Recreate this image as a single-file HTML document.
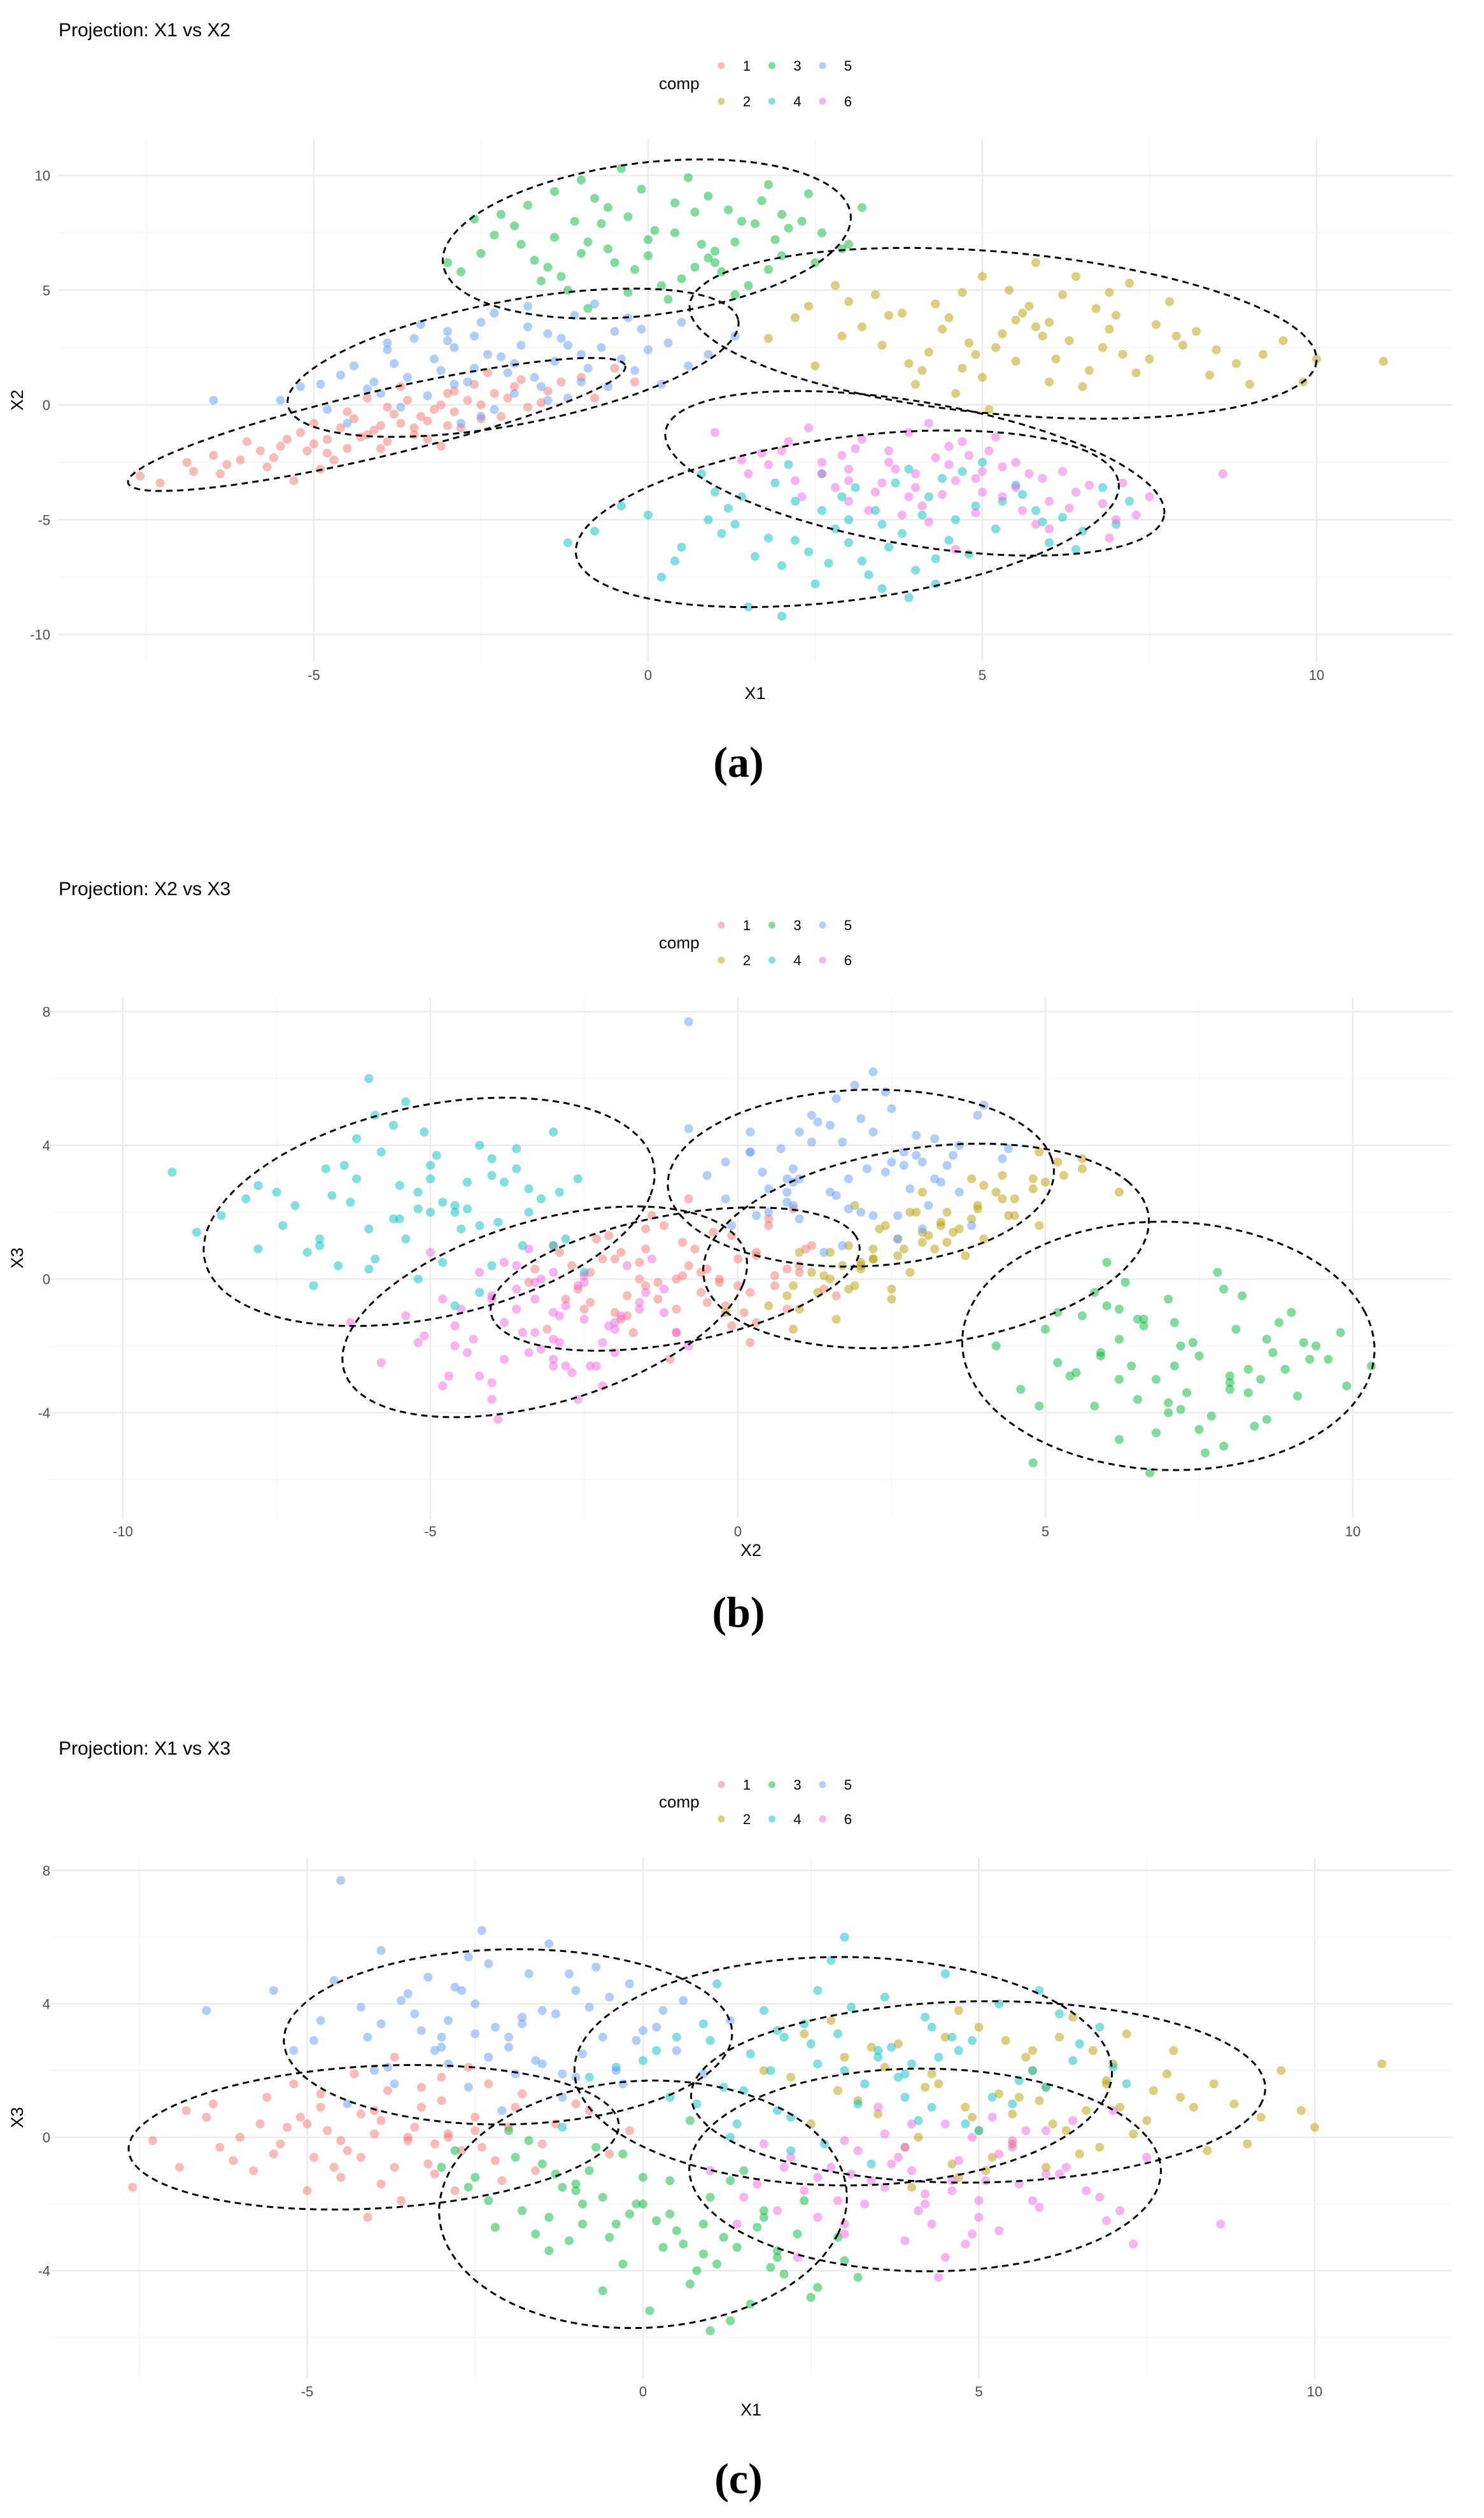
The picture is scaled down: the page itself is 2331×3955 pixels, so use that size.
<!DOCTYPE html>
<html><head><meta charset="utf-8"><style>
html,body{margin:0;padding:0;background:#fff;}
svg{display:block;font-family:"Liberation Sans",sans-serif;}
</style></head><body>
<svg id="fig" width="2331" height="3955" viewBox="0 0 2331 3955" xmlns="http://www.w3.org/2000/svg"></svg>
<script>
// ---- data: 3D points per component [X1, X2, X3] ----
const comp1 = [[-4.0,-0.9,0.1],[-5.5,-1.8,-0.5],[-2.5,0.0,0.6],[-3.2,-0.2,-0.8],[-4.8,-1.5,0.9],[-6.3,-2.6,-0.3],[-1.5,0.6,-0.2],[-3.8,-0.4,1.4],[-4.5,-1.9,-1.2],[-2.0,0.8,0.3],[-5.0,-0.8,0.4],[-3.5,-1.3,-0.1],[-6.8,-2.9,0.8],[-1.0,1.2,1.0],[-2.8,-1.0,-1.6],[-4.2,0.3,0.7],[-5.8,-2.0,-1.0],[-3.0,0.5,1.8],[-4.7,-2.4,0.2],[-2.2,-0.5,-0.7],[-3.6,0.2,-1.9],[-5.2,-1.2,1.6],[-7.3,-3.4,-0.1],[-0.5,1.6,-0.5],[-3.9,-1.6,0.5],[-4.4,-0.6,-0.4],[-2.6,0.9,2.1],[-6.0,-1.6,0.0],[-3.3,-0.7,0.9],[-4.9,-2.8,-0.6],[-1.8,-0.1,1.3],[-5.6,-2.3,1.2],[-3.1,-1.8,-1.1],[-2.4,1.4,-0.3],[-4.1,-1.1,-2.4],[-6.5,-2.2,0.6],[-0.8,0.3,0.8],[-3.7,0.8,-0.9],[-5.3,-3.3,0.3],[-2.9,-0.3,0.0],
[-3.4,-0.5,0.3],[-4.6,-1.0,-0.9],[-2.1,0.3,-1.3],[-5.1,-2.0,0.6],[-3.0,-0.9,1.1],[-6.1,-2.4,-0.7],[-1.3,1.0,0.4],[-4.3,-1.4,1.9],[-2.7,0.2,-0.4],[-5.4,-1.5,-0.2],[-3.9,-0.1,-1.4],[-4.8,-2.1,1.3],[-2.3,0.5,1.6],[-6.9,-2.5,-0.9],[-3.5,-1.0,0.0],[-1.6,0.1,-1.0],[-4.0,-1.9,0.8],[-5.7,-2.7,0.4],[-2.9,0.6,0.1],[-3.3,-1.5,1.5],[-4.5,-0.3,-0.1],[-7.6,-3.1,-1.5],[-1.9,1.1,0.9],[-5.0,-1.7,-1.6],[-3.7,-0.8,2.4],[-2.5,-0.6,0.2],[-6.4,-3.0,1.0],[-4.2,-1.3,-0.6],[-0.2,1.0,0.2],[-3.1,0.0,-0.2]];
const comp2 = [[5.3,3.1,1.3],[7.5,2.0,0.5],[3.0,4.5,2.4],[6.2,4.8,3.0],[4.1,1.5,0.0],[8.8,1.8,1.0],[5.0,5.6,3.3],[2.2,3.8,1.8],[6.8,2.5,-0.3],[4.6,0.5,-0.8],[9.5,2.8,2.0],[3.5,2.6,0.7],[5.8,6.2,2.6],[7.0,3.9,2.2],[4.4,3.3,1.6],[6.5,0.8,-0.5],[2.8,5.2,3.5],[8.2,3.2,0.9],[5.5,1.9,-0.2],[3.8,4.0,2.8],[6.0,3.6,1.5],[4.9,2.2,0.6],[7.8,4.5,1.9],[1.8,2.9,2.0],[5.7,4.3,2.4],[10.0,2.0,0.3],[4.0,0.9,-1.5],[6.6,1.5,0.8],[3.2,3.4,1.1],[7.2,5.3,3.1],[5.1,-0.2,-1.0],[8.5,2.4,1.6],[4.7,4.9,3.8],[6.3,2.8,0.2],[2.5,1.7,0.4],[11.0,1.9,2.2],[9.0,0.9,-0.2],[5.9,3.0,1.1],
[4.8,2.7,0.9],[6.9,3.3,1.7],[3.6,3.9,2.1],[5.6,4.0,1.2],[7.3,1.4,0.1],[4.2,2.3,1.5],[8.0,2.6,1.2],[5.4,5.0,2.9],[6.1,2.0,0.4],[3.9,1.8,-0.3],[9.2,2.2,0.6],[4.5,3.8,3.0],[6.7,4.2,2.6],[5.2,2.5,-0.6],[7.6,3.5,1.4],[2.9,3.0,1.4],[6.4,5.6,3.6],[5.0,1.2,0.2],[8.4,1.3,-0.4],[3.4,4.8,2.7],[6.0,1.0,-0.9],[4.3,4.4,1.9],[7.1,2.2,0.9],[5.8,3.4,2.0],[9.8,1.0,0.8],[2.4,4.3,3.1],[6.9,4.9,1.6],[4.7,1.6,-1.2],[7.9,3.0,2.6],[5.5,3.7,0.7]];
const comp3 = [[0.0,7.2,-2.0],[-1.5,6.0,-0.8],[1.2,8.5,-3.0],[-0.8,9.0,-1.0],[2.0,6.5,-3.6],[-2.0,7.8,0.2],[0.5,5.5,-2.8],[1.8,9.6,-2.4],[-1.2,5.0,-1.5],[0.8,7.0,-4.0],[-2.5,6.6,-1.2],[2.6,7.5,-4.5],[-0.3,8.2,-0.5],[1.0,6.2,-1.8],[-1.8,8.7,-2.2],[0.3,4.6,-3.3],[2.3,8.0,-2.9],[-0.6,6.8,-4.6],[1.5,5.2,-1.0],[-1.0,9.8,-1.6],[0.1,7.6,-5.2],[-2.8,5.8,-0.4],[1.9,7.2,-3.9],[-0.4,10.3,-2.6],[0.7,6.0,0.5],[-1.4,7.3,-3.4],[2.9,6.8,-3.0],[-2.2,8.3,-2.7],[0.9,9.1,-3.5],[-0.2,5.9,-2.3],[1.3,4.8,-5.5],[-1.7,6.3,-0.1],[3.2,8.6,-4.2],[-3.0,6.2,-0.9],[0.4,8.8,-1.3],[1.6,7.9,-5.0],[-0.9,4.2,-2.0],[2.4,9.2,-1.9],
[0.4,7.5,-2.3],[-1.0,6.6,-1.4],[1.4,8.0,-3.3],[-0.6,8.6,-1.8],[0.9,6.4,-2.6],[-1.9,7.0,-0.6],[1.1,5.8,-3.8],[-0.1,9.4,-2.0],[-1.3,5.6,-1.1],[2.1,7.7,-4.1],[-0.5,6.2,-3.0],[1.7,8.9,-2.7],[-2.3,7.4,-1.9],[0.2,5.2,-2.5],[1.3,7.1,-1.3],[-1.1,8.0,-3.1],[2.5,6.2,-4.8],[-0.7,7.9,-0.3],[0.6,9.9,-3.2],[-1.6,5.4,-2.9],[1.0,6.7,-5.8],[-2.6,8.1,-1.5],[0.0,6.5,-1.2],[2.0,8.3,-3.4],[-0.3,4.9,-3.8],[1.8,5.9,-2.2],[-1.4,9.3,-2.4],[0.7,8.4,-4.4],[3.0,7.0,-3.7],[-0.9,7.1,-2.6]];
const comp4 = [[3.0,-5.0,2.0],[0.5,-6.2,3.0],[5.5,-3.5,1.0],[2.0,-7.0,0.8],[4.2,-4.0,3.6],[1.2,-4.5,1.5],[6.5,-5.5,2.8],[3.5,-8.0,2.4],[-0.8,-5.5,1.8],[2.6,-3.0,4.4],[4.8,-6.5,0.4],[1.8,-5.8,3.8],[3.9,-2.8,1.2],[5.8,-4.6,2.0],[0.2,-7.5,2.6],[2.2,-4.2,-0.4],[4.5,-5.9,4.9],[6.8,-3.6,3.3],[3.2,-6.8,1.0],[1.0,-3.8,2.9],[5.0,-2.5,0.2],[2.8,-5.4,5.3],[-1.2,-6.0,0.3],[4.0,-7.2,2.2],[3.4,-4.6,-0.8],[1.5,-8.8,1.4],[5.3,-4.2,4.0],[2.4,-6.4,3.4],[0.0,-4.8,2.3],[6.0,-6.0,1.5],[3.7,-3.4,2.7],[1.3,-5.2,0.0],[4.6,-5.0,3.0],[2.0,-9.2,3.2],[7.2,-4.2,1.6],[3.0,-6.0,6.0],[0.8,-3.0,1.0],[4.3,-7.8,0.9],
[2.6,-4.6,2.2],[3.8,-5.6,1.8],[1.6,-6.6,2.5],[4.4,-3.2,2.4],[2.9,-4.0,3.1],[5.2,-5.4,1.2],[0.9,-5.0,3.4],[3.3,-7.4,1.6],[4.9,-4.4,2.9],[2.2,-5.9,0.6],[6.2,-4.9,3.7],[1.9,-3.4,2.0],[3.6,-6.2,4.2],[5.6,-3.9,1.7],[0.4,-6.8,1.2],[4.1,-4.8,0.5],[2.5,-7.8,2.8],[6.4,-6.3,2.3],[3.1,-3.6,3.9],[1.1,-5.6,4.6],[4.7,-2.9,2.6],[2.7,-6.9,-0.2],[5.9,-5.1,4.4],[-0.4,-4.4,2.1],[3.5,-5.2,2.6],[1.4,-4.0,0.4],[4.3,-6.7,3.3],[7.0,-5.2,2.1],[2.1,-2.6,3.0],[3.9,-8.4,1.9]];
const comp5 = [[-2.0,1.8,3.0],[-4.0,0.5,2.0],[-0.5,3.2,4.2],[-3.2,2.0,4.8],[-1.0,1.0,1.8],[-4.8,-0.2,3.5],[0.5,3.6,2.6],[-2.6,3.0,1.5],[-1.5,0.2,3.8],[-3.6,1.2,4.1],[0.0,2.4,3.2],[-2.3,4.0,5.2],[-1.2,2.6,1.2],[-5.2,0.8,2.6],[-0.2,1.5,4.6],[-2.9,0.9,2.2],[-1.8,3.4,3.4],[-3.9,2.4,5.6],[0.9,2.2,1.9],[-2.5,-0.5,3.1],[-1.4,1.9,5.8],[-4.4,1.7,1.0],[-0.8,4.4,3.9],[-3.0,2.8,2.7],[-2.1,1.4,0.8],[-5.5,0.2,4.4],[1.3,3.0,3.5],[-1.6,0.8,2.3],[-3.4,3.5,3.7],[-2.8,-0.8,4.5],[-0.4,2.0,2.0],[-4.1,1.0,3.0],[-1.1,3.9,4.9],[-2.4,2.2,6.2],[-3.7,-0.1,1.6],[0.2,0.9,3.3],[-6.5,0.2,3.8],[-4.5,-0.8,7.7],
[-2.2,2.1,3.3],[-3.1,1.5,2.6],[-1.3,2.9,3.7],[-2.7,1.0,4.4],[-0.9,1.6,2.5],[-4.2,0.7,3.9],[-0.1,3.3,2.9],[-1.9,2.6,1.9],[-3.3,0.4,3.2],[-1.0,2.2,4.4],[-2.5,3.6,4.0],[-3.8,1.8,2.1],[-0.6,0.8,3.0],[-1.7,1.2,4.9],[-2.9,2.5,3.5],[-4.6,1.3,4.7],[0.3,2.7,3.8],[-2.0,0.5,2.7],[-1.5,3.1,2.2],[-3.5,2.9,4.3],[-0.3,3.8,1.6],[-2.6,1.6,5.4],[-4.9,0.9,2.9],[-1.2,0.3,1.9],[-3.0,3.2,3.0],[0.6,1.7,4.1],[-2.3,-0.2,2.4],[-1.8,4.3,3.6],[-3.9,2.7,3.4],[-0.7,2.5,5.1]];
const comp6 = [[4.0,-3.0,-1.0],[2.0,-2.0,-2.2],[6.0,-4.2,0.2],[3.2,-1.5,-0.4],[5.0,-3.8,-2.4],[1.5,-3.0,-1.8],[7.0,-5.0,0.8],[4.5,-1.8,0.4],[3.0,-4.2,-2.9],[5.5,-2.5,-0.1],[2.6,-2.5,-1.2],[6.6,-3.5,-1.6],[3.8,-4.8,-0.6],[4.8,-2.2,-3.2],[1.0,-1.2,-1.0],[5.8,-5.2,-1.9],[3.5,-3.4,0.9],[4.2,-0.8,-2.0],[7.5,-4.0,-0.6],[2.3,-4.0,-3.6],[5.2,-1.4,0.6],[3.0,-2.8,-2.6],[6.2,-2.9,-1.1],[4.4,-3.9,-4.2],[1.8,-2.6,-0.2],[5.6,-4.6,-1.4],[3.6,-2.0,-1.5],[4.9,-3.2,0.0],[6.9,-5.8,-2.5],[2.8,-3.6,-0.9],[4.1,-4.4,-2.2],[7.3,-4.8,-3.2],[3.9,-1.2,-0.3],[5.3,-2.7,-2.8],[2.4,-1.0,-1.6],[6.4,-3.8,0.5],[4.6,-6.3,-1.3],[8.6,-3.0,-2.6],
[3.7,-2.8,-0.8],[4.6,-3.3,-1.6],[2.9,-2.2,-1.9],[5.3,-4.0,-0.5],[3.4,-3.8,-1.3],[5.9,-3.2,-2.1],[2.2,-3.3,-0.6],[4.3,-2.3,-2.6],[6.3,-4.5,-0.9],[3.1,-1.9,-1.1],[4.9,-4.7,-2.9],[1.7,-2.1,-1.4],[5.7,-3.0,0.2],[3.3,-4.6,-2.0],[4.7,-1.6,-0.7],[6.8,-4.3,-1.8],[2.6,-3.0,-2.4],[4.0,-3.6,0.4],[5.1,-2.0,-1.3],[3.9,-4.0,-3.1],[6.0,-5.4,-1.1],[2.1,-1.6,-0.9],[4.5,-2.6,-3.6],[5.5,-3.6,-0.3],[3.0,-3.3,-0.1],[7.1,-3.4,-2.2],[4.2,-5.1,-1.7],[1.4,-2.4,-2.6],[5.0,-2.9,-1.9],[3.6,-2.5,0.1]];
const compLabels = ["1","2","3","4","5","6"];
const compColors = ["#F8766D","#B79F00","#00BA38","#00BFC4","#619CFF","#F564E3"];

// ---- ellipses per panel: [comp, cx, cy, ux, uy, vx, vy] in data units ----
const ellipsesA = [[1,-4.06,-0.85,3.72,2.55,0.11,-1.38],[5,-2.02,1.84,3.37,1.85,0.17,-2.65],[3,-0.02,7.23,3.05,1.07,0.13,-3.3],[2,5.31,3.12,4.69,-1.21,-0.10,-3.52],[6,3.99,-2.98,3.73,-1.84,-0.18,-3.08],[4,2.98,-4.96,4.06,1.56,0.16,-3.52]];
const ellipsesB = [[4,-5.02,2.01,3.6,0.5,0.7,3.38],[6,-3.14,-0.98,3.22,0.8,0.68,3.05],[1,-1.02,0.0,2.94,1.28,-0.6,1.72],[5,2.0,3.02,3.1,0.6,-0.5,2.58],[2,3.06,0.99,3.3,1.9,-1.5,2.4],[3,7.0,-2.0,3.2,1.0,-1.0,3.58]];
const ellipsesC = [[1,-4.01,0.0,3.6,0.7,-0.6,2.05],[5,-2.01,3.01,3.3,0.5,-0.5,2.58],[3,0.0,-2.01,2.9,-0.9,0.9,3.6],[4,2.98,1.98,3.9,-0.8,0.9,3.33],[2,4.99,1.36,4.2,-0.4,0.8,2.69],[6,4.2,-0.98,3.3,1.0,-1.2,2.87]];

// ---- tick labels ----
const ticksXA = [-5,0,5,10], ticksYA = [-10,-5,0,5,10];
const ticksXB = [-10,-5,0,5,10], ticksYB = [-4,0,4,8];
const ticksXC = [-5,0,5,10], ticksYC = [-4,0,4,8];

const NS = "http://www.w3.org/2000/svg";
const svg = document.getElementById("fig");
function el(tag, attrs, parent, text){
  const e = document.createElementNS(NS, tag);
  for (const k in attrs) e.setAttribute(k, attrs[k]);
  if (text !== undefined) e.textContent = text;
  (parent || svg).appendChild(e);
  return e;
}
const allComps = [comp1,comp2,comp3,comp4,comp5,comp6];

const panels = [
 {key:"a", title:"Projection: X1 vs X2", xi:0, yi:1, xl:"X1", yl:"X2", ticksX:ticksXA, ticksY:ticksYA, ells:ellipsesA,
  left:91, right:2281, top:218, bottom:1039, x0:1018, xs:105, y0:636, ys:36.05, minorX:2.5, minorY:2.5,
  titleY:57, leg1:103, leg2:159, tickY:1068, xTitleY:1098, cap:1220, capX:1160},
 {key:"b", title:"Projection: X2 vs X3", xi:1, yi:2, xl:"X2", yl:"X3", ticksX:ticksXB, ticksY:ticksYB, ells:ellipsesB,
  left:78, right:2281, top:1567, bottom:2385, x0:1159, xs:96.6, y0:2009, ys:52.5, minorX:2.5, minorY:2,
  titleY:1406, leg1:1453, leg2:1508, tickY:2413, xTitleY:2444, cap:2555, capX:1160},
 {key:"c", title:"Projection: X1 vs X3", xi:0, yi:2, xl:"X1", yl:"X3", ticksX:ticksXC, ticksY:ticksYC, ells:ellipsesC,
  left:78, right:2281, top:2917, bottom:3735, x0:1010, xs:105.5, y0:3357, ys:52.4, minorX:2.5, minorY:2,
  titleY:2756, leg1:2803, leg2:2857, tickY:3764, xTitleY:3794, cap:3916, capX:1160}
];

panels.forEach(p => {
  const g = el("g", {});
  
  
  const X = v => p.x0 + v * p.xs;
  const Y = v => p.y0 - v * p.ys;
  const dMinX = (p.left - p.x0)/p.xs, dMaxX = (p.right - p.x0)/p.xs;
  const dMinY = (p.y0 - p.bottom)/p.ys, dMaxY = (p.y0 - p.top)/p.ys;
  for (let v = Math.ceil(dMinX/p.minorX)*p.minorX; v <= dMaxX; v += p.minorX){
    const major = Math.abs(v/(p.minorX*2) - Math.round(v/(p.minorX*2))) < 1e-6;
    const ln = el("line", {x1:X(v), x2:X(v), y1:p.top, y2:p.bottom, stroke: major ? "#ebebeb" : "#f3f3f3", "stroke-width": major ? 2.5 : 1.3}, g);
    
    
  }
  for (let v = Math.ceil(dMinY/p.minorY)*p.minorY; v <= dMaxY; v += p.minorY){
    const major = Math.abs(v/(p.minorY*2) - Math.round(v/(p.minorY*2))) < 1e-6;
    const ln = el("line", {x1:p.left, x2:p.right, y1:Y(v), y2:Y(v), stroke: major ? "#ebebeb" : "#f3f3f3", "stroke-width": major ? 2.5 : 1.3}, g);
    
    
  }
  p.ticksX.forEach(t => {
    const tx = el("text", {x:X(t), y:p.tickY, "text-anchor":"middle", "font-size":22, fill:"#4d4d4d"}, g, String(t));
    
    
  });
  p.ticksY.forEach(t => {
    const ty = el("text", {x:79, y:Y(t)+8, "text-anchor":"end", "font-size":22, fill:"#4d4d4d"}, g, String(t));
    
    
  });
  allComps.forEach((arr, ci) => {
    arr.forEach(pt => {
      const c = el("circle", {cx:X(pt[p.xi]), cy:Y(pt[p.yi]), r:7, fill:compColors[ci], "fill-opacity":0.5}, g);
      
      
    });
  });
  p.ells.forEach(e => {
    let d = "";
    for (let i = 0; i <= 96; i++){
      const t = i/96*2*Math.PI;
      const dx = e[1] + e[3]*Math.cos(t) + e[5]*Math.sin(t);
      const dy = e[2] + e[4]*Math.cos(t) + e[6]*Math.sin(t);
      d += (i ? "L" : "M") + X(dx).toFixed(1) + "," + Y(dy).toFixed(1);
    }
    const pth = el("path", {d:d+"Z", fill:"none", stroke:"#000", "stroke-width":3, "stroke-dasharray":"10,7"}, g);
    
    
  });
  const tt = el("text", {x:92, y:p.titleY, "font-size":30, fill:"#000"}, g, p.title);
  
  
  const xt = el("text", {x:(p.left+p.right)/2, y:p.xTitleY, "text-anchor":"middle", "font-size":27, fill:"#000"}, g, p.xl);
  
  
  const cyM = (p.top+p.bottom)/2;
  const yt = el("text", {x:36, y:cyM, "text-anchor":"middle", "font-size":27, fill:"#000", transform:"rotate(-90 36 "+cyM+")"}, g, p.yl);
  
  
  const lg = el("g", {}, g);
  
  
  const lt = el("text", {x:1035, y:(p.leg1+p.leg2)/2+9, "font-size":26, fill:"#000"}, lg, "comp");
  
  
  compLabels.forEach((lab, i) => {
    const col = Math.floor(i/2), row = i%2;
    const cx = 1133 + col*79.5, cy = row ? p.leg2 : p.leg1;
    const dot = el("circle", {cx:cx, cy:cy, r:5.5, fill:compColors[i], "fill-opacity":0.5}, lg);
    
    
    const tx = el("text", {x:cx+40, y:cy+8, "text-anchor":"middle", "font-size":22, fill:"#000"}, lg, lab);
    
    
  });
  const cap = el("text", {x:p.capX, y:p.cap, "text-anchor":"middle", "font-size":68, "font-weight":"bold", fill:"#000", "font-family":"'Liberation Serif', serif"}, svg, "(" + p.key + ")");
  
  
});
</script>
</body></html>
